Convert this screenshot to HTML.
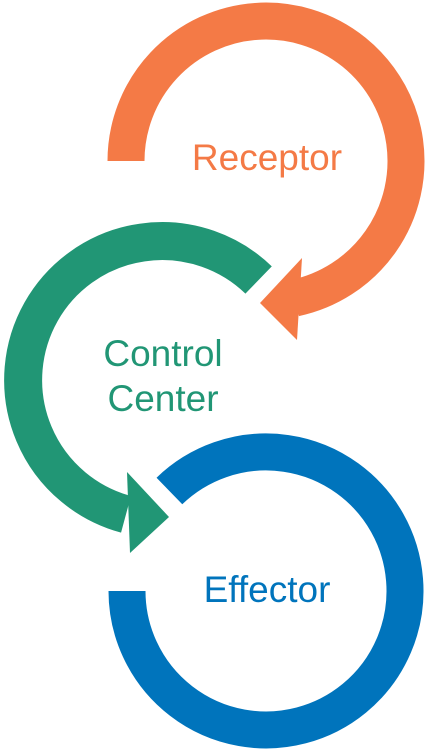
<!DOCTYPE html>
<html><head><style>
html,body{margin:0;padding:0;background:#fff;}
svg{display:block}
text{font-family:"Liberation Sans",sans-serif;font-size:37px;text-anchor:middle}
</style></head><body>
<svg width="429" height="754" viewBox="0 0 429 754">
<path d="M126 161 A140 140 0 1 1 295.1 298" fill="none" stroke="#F47A46" stroke-width="37"/>
<polygon points="302,258 260,303 297,340" fill="#F47A46"/>
<path d="M258.6 280 A139 139 0 1 0 126 514.3" fill="none" stroke="#219675" stroke-width="38"/>
<polygon points="127,472 169,517 130,553" fill="#219675"/>
<path d="M127 591 A139 139 0 1 0 169.4 491" fill="none" stroke="#0074BC" stroke-width="37"/>
<text x="267" y="170" fill="#F47A46">Receptor</text>
<text x="163" y="366" fill="#219675">Control</text>
<text x="163" y="411" fill="#219675">Center</text>
<text x="267" y="602" fill="#0074BC">Effector</text>
</svg>
</body></html>
